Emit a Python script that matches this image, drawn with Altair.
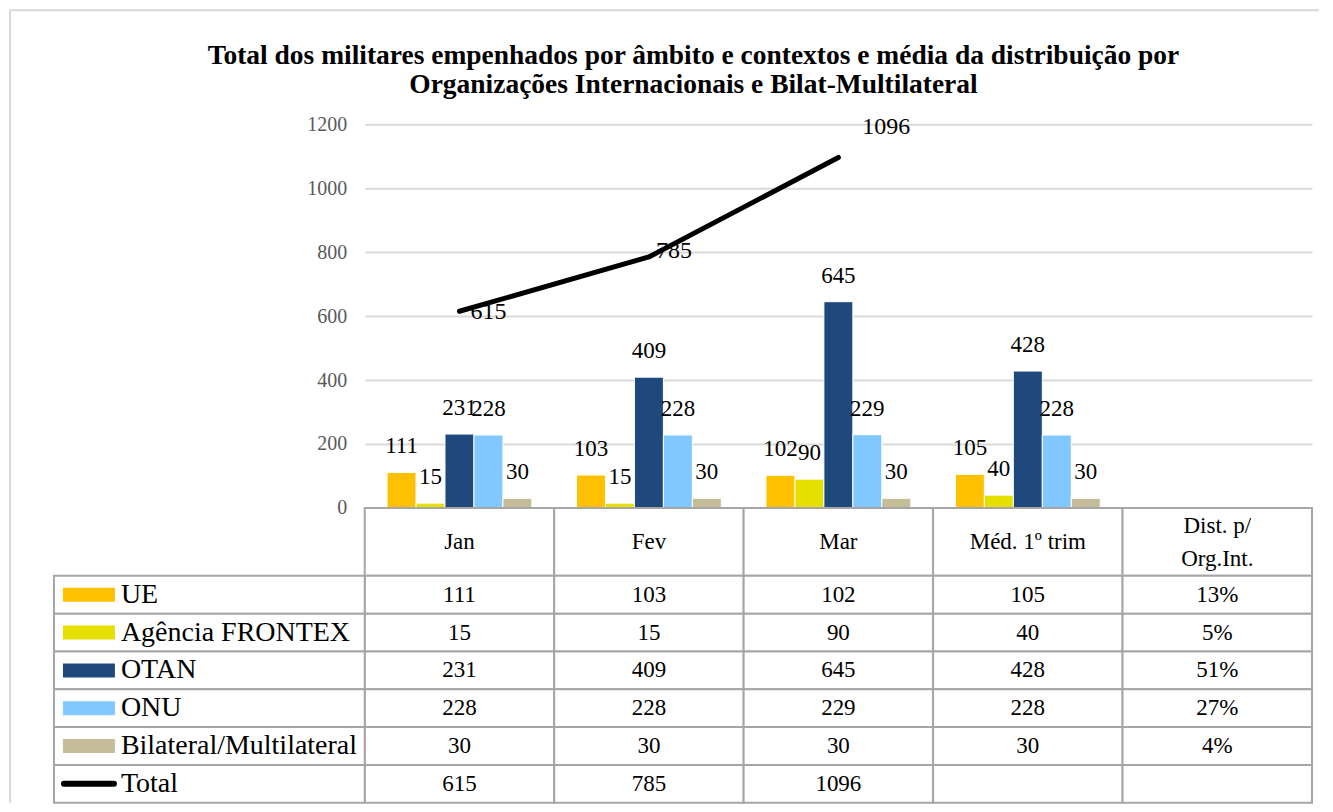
import altair as alt
import pandas as pd

title_lines = [
    "Total dos militares empenhados por âmbito e contextos e média da distribuição por",
    "Organizações Internacionais e Bilat-Multilateral",
]
columns = ["Jan", "Fev", "Mar", "Méd. 1º trim", "Dist. p/\nOrg.Int."]
series = ["UE", "Agência FRONTEX", "OTAN", "ONU", "Bilateral/Multilateral"]
colors = ["#FFC000", "#E6E000", "#1F497D", "#80C8FF", "#C4BD97"]
ue = [111, 103, 102, 105]
frontex = [15, 15, 90, 40]
otan = [231, 409, 645, 428]
onu = [228, 228, 229, 228]
bilat = [30, 30, 30, 30]
total = [615, 785, 1096]
dist = ["13%", "5%", "51%", "27%", "4%"]
y_ticks = [0, 200, 400, 600, 800, 1000, 1200]

FONT = "Liberation Serif"
rows = series + ["Total"]
series_vals = [ue, frontex, otan, onu, bilat]

# ---- data frames built from the arrays ----
bar_df = pd.DataFrame(
    [
        {"cat": columns[i], "series": s, "value": v}
        for s, vals in zip(series, series_vals)
        for i, v in enumerate(vals)
    ]
)
line_df = pd.DataFrame({"cat": columns[: len(total)], "total": total})
header_df = pd.DataFrame(
    {
        "cat": columns,
        "hrow": ["h"] * len(columns),
        "multi": ["\n" in c for c in columns],
    }
)

cell_records = []
for s, vals, d in zip(series, series_vals, dist):
    texts = [str(v) for v in vals] + [d]
    for c, t in zip(columns, texts):
        cell_records.append({"cat": c, "series": s, "txt": t})
total_texts = [str(v) for v in total] + [""] * (len(columns) - len(total))
for c, t in zip(columns, total_texts):
    cell_records.append({"cat": c, "series": "Total", "txt": t})
cell_df = pd.DataFrame(cell_records)
legend_df = pd.DataFrame({"series": rows})
frame_df = pd.DataFrame({"frame": [0]})

# ---- scales ----
x_enc = alt.X(
    "cat:N",
    sort=columns,
    scale=alt.Scale(domain=columns, paddingInner=0, paddingOuter=0),
    axis=None,
)
xoff_enc = alt.XOffset(
    "series:N",
    sort=series,
    scale=alt.Scale(domain=series, paddingInner=0, paddingOuter=0.77),
)
y_scale = alt.Scale(domain=[0, 1200], nice=False, zero=True)
color_scale = alt.Scale(domain=series, range=colors)

bars = alt.Chart(bar_df).mark_bar(stroke="white", strokeWidth=1).encode(
    x=x_enc,
    xOffset=xoff_enc,
    y=alt.Y(
        "value:Q",
        scale=y_scale,
        axis=alt.Axis(
            orient="left",
            values=y_ticks,
            format="d",
            grid=True,
            gridColor="#D9D9D9",
            gridWidth=2,
            domain=False,
            ticks=False,
            labelFont=FONT,
            labelFontSize=20,
            labelColor="#595959",
            labelPadding=18,
            title=None,
        ),
    ),
    color=alt.Color("series:N", scale=color_scale, legend=None),
)

bar_labels = alt.Chart(bar_df).mark_text(
    font=FONT, fontSize=23, color="black", baseline="middle", dy=-26
).encode(
    x=x_enc,
    xOffset=xoff_enc,
    y=alt.Y("value:Q", scale=y_scale),
    text=alt.Text("value:Q"),
)

line = alt.Chart(line_df).mark_line(
    color="black", strokeWidth=5, strokeCap="round", strokeJoin="round"
).encode(x=x_enc, y=alt.Y("total:Q", scale=y_scale))


def line_label(month, dx, dy):
    return (
        alt.Chart(line_df)
        .transform_filter(alt.datum.cat == month)
        .mark_text(
            font=FONT, fontSize=24, color="black", align="left",
            baseline="middle", dx=dx, dy=dy,
        )
        .encode(x=x_enc, y=alt.Y("total:Q", scale=y_scale), text="total:Q")
    )


plot = alt.layer(
    bars,
    bar_labels,
    line,
    line_label("Jan", 11, 1),
    line_label("Fev", 7, -6),
    line_label("Mar", 24, -30),
)

# ---- data table ----
GRID = "#A6A6A6"
hy = alt.Y(
    "hrow:N",
    scale=alt.Scale(domain=["h"], range=[384, 452], paddingInner=0, paddingOuter=0),
    axis=None,
)
header_rect = alt.Chart(header_df).mark_rect(
    fill="white", stroke=GRID, strokeWidth=2
).encode(x=x_enc, y=hy)


def header_text(multiline, dy):
    flt = alt.datum.multi if multiline else ~alt.datum.multi
    return (
        alt.Chart(header_df)
        .transform_filter(flt)
        .mark_text(
            font=FONT, fontSize=23, color="black", lineBreak="\n",
            lineHeight=33, baseline="middle", dy=dy,
        )
        .encode(x=x_enc, y=hy, text="cat:N")
    )


ry = alt.Y(
    "series:N",
    sort=rows,
    scale=alt.Scale(domain=rows, range=[452, 679], paddingInner=0, paddingOuter=0),
    axis=None,
)
cell_rect = alt.Chart(cell_df).mark_rect(
    fill="white", stroke=GRID, strokeWidth=2
).encode(x=x_enc, y=ry)
cell_text = alt.Chart(cell_df).mark_text(
    font=FONT, fontSize=23, color="black", baseline="middle"
).encode(x=x_enc, y=ry, text="txt:N")

legend_rect = alt.Chart(legend_df).mark_rect(
    fill="white", stroke=GRID, strokeWidth=2
).encode(x=alt.value(-311), x2=alt.value(0), y=ry)
legend_keys = (
    alt.Chart(legend_df)
    .transform_filter(alt.datum.series != "Total")
    .mark_rule(strokeWidth=14)
    .encode(
        x=alt.value(-302),
        x2=alt.value(-250),
        y=ry,
        color=alt.Color("series:N", scale=color_scale, legend=None),
    )
)
total_key = (
    alt.Chart(legend_df)
    .transform_filter(alt.datum.series == "Total")
    .mark_rule(strokeWidth=6, strokeCap="round", color="black")
    .encode(x=alt.value(-301), x2=alt.value(-251), y=ry)
)
legend_labels = alt.Chart(legend_df).mark_text(
    font=FONT, fontSize=28, color="black", align="left", baseline="middle"
).encode(x=alt.value(-244), y=ry, text="series:N")

# ---- outer chart-area frame (top and left edges) ----
frame_top = alt.Chart(frame_df).mark_rule(color="#D9D9D9", strokeWidth=2).encode(
    x=alt.value(-355), x2=alt.value(955), y=alt.value(-114)
)
frame_left = alt.Chart(frame_df).mark_rule(color="#D9D9D9", strokeWidth=2).encode(
    x=alt.value(-355), y=alt.value(-114), y2=alt.value(679)
)

chart = (
    alt.layer(
        plot,
        frame_top,
        frame_left,
        header_rect,
        header_text(False, 0),
        header_text(True, -16),
        cell_rect,
        cell_text,
        legend_rect,
        legend_keys,
        total_key,
        legend_labels,
    )
    .resolve_scale(y="independent")
    .properties(
        width=948,
        height=384,
        padding={"left": 1, "top": 1, "right": 5, "bottom": 0},
        title=alt.Title(
            title_lines,
            font=FONT,
            fontSize=27.5,
            fontWeight="bold",
            color="black",
            anchor="middle",
            baseline="bottom",
            lineHeight=29,
            offset=-117,
            dx=-145,
        ),
    )
    .configure_view(strokeWidth=0)
    .configure_text(font=FONT)
)

chart.save("out.html", embed_options={"renderer": "svg", "actions": False})
